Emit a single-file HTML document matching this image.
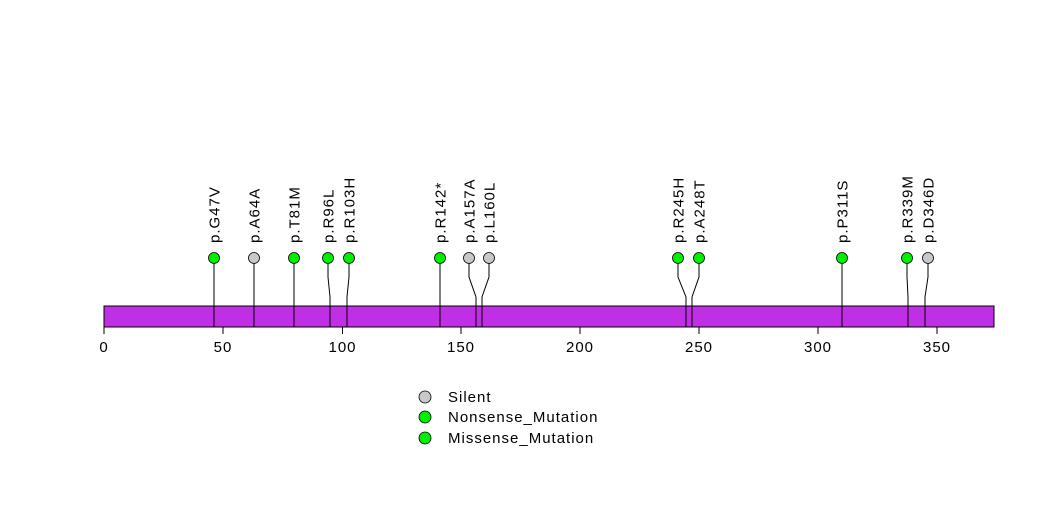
<!DOCTYPE html>
<html><head><meta charset="utf-8"><style>
html,body{margin:0;padding:0;background:#fff;width:1047px;height:524px;overflow:hidden}
svg{display:block}
text{font-family:"Liberation Sans",sans-serif;font-size:15px;letter-spacing:1px;fill:#000}
</style></head><body>
<svg width="1047" height="524" viewBox="0 0 1047 524" xmlns="http://www.w3.org/2000/svg">
<rect x="104" y="306" width="890" height="21" fill="#BF2FE5" stroke="#000" stroke-width="1"/>
<g stroke="#000" stroke-width="1" fill="none">
<path d="M214,258V327"/>
<path d="M254,258V327"/>
<path d="M294,258V327"/>
<path d="M328,258V277L330,297V327"/>
<path d="M349,258V277L347,297V327"/>
<path d="M440,258V327"/>
<path d="M469,258V277L476,297V327"/>
<path d="M489,258V277L482,297V327"/>
<path d="M678,258V277L686,297V327"/>
<path d="M699,258V277L692,297V327"/>
<path d="M842,258V327"/>
<path d="M907,258V277L908,297V327"/>
<path d="M928,258V277L925,297V327"/>
<path d="M104,327V334M223,327V334M342.5,327V334M461,327V334M580,327V334M699,327V334M818,327V334M937,327V334"/>
</g>
<g stroke="#000" stroke-width="0.8">
<circle cx="214" cy="258" r="5.5" fill="#00EE00"/>
<circle cx="254" cy="258" r="5.5" fill="#C8C8C8"/>
<circle cx="294" cy="258" r="5.5" fill="#00EE00"/>
<circle cx="328" cy="258" r="5.5" fill="#00EE00"/>
<circle cx="349" cy="258" r="5.5" fill="#00EE00"/>
<circle cx="440" cy="258" r="5.5" fill="#00EE00"/>
<circle cx="469" cy="258" r="5.5" fill="#C8C8C8"/>
<circle cx="489" cy="258" r="5.5" fill="#C8C8C8"/>
<circle cx="678" cy="258" r="5.5" fill="#00EE00"/>
<circle cx="699" cy="258" r="5.5" fill="#00EE00"/>
<circle cx="842" cy="258" r="5.5" fill="#00EE00"/>
<circle cx="907" cy="258" r="5.5" fill="#00EE00"/>
<circle cx="928" cy="258" r="5.5" fill="#C8C8C8"/>
<circle cx="425" cy="397" r="6" fill="#C8C8C8"/>
<circle cx="425" cy="417" r="6" fill="#00EE00"/>
<circle cx="425" cy="438" r="6" fill="#00EE00"/>
</g>
<g>
<text transform="translate(219.5,243) rotate(-90)">p.G47V</text>
<text transform="translate(259.5,243) rotate(-90)">p.A64A</text>
<text transform="translate(299.5,243) rotate(-90)">p.T81M</text>
<text transform="translate(333.5,243) rotate(-90)">p.R96L</text>
<text transform="translate(354.5,243) rotate(-90)">p.R103H</text>
<text transform="translate(445.5,243) rotate(-90)">p.R142*</text>
<text transform="translate(474.5,243) rotate(-90)">p.A157A</text>
<text transform="translate(494.5,243) rotate(-90)">p.L160L</text>
<text transform="translate(683.5,243) rotate(-90)">p.R245H</text>
<text transform="translate(704.5,243) rotate(-90)">p.A248T</text>
<text transform="translate(847.5,243) rotate(-90)">p.P311S</text>
<text transform="translate(912.5,243) rotate(-90)">p.R339M</text>
<text transform="translate(933.5,243) rotate(-90)">p.D346D</text>
</g>
<g text-anchor="middle">
<text x="104" y="352">0</text>
<text x="223" y="352">50</text>
<text x="342.5" y="352">100</text>
<text x="461" y="352">150</text>
<text x="580" y="352">200</text>
<text x="699" y="352">250</text>
<text x="818" y="352">300</text>
<text x="937" y="352">350</text>
</g>
<text x="448" y="402">Silent</text>
<text x="448" y="422">Nonsense_Mutation</text>
<text x="448" y="443">Missense_Mutation</text>
</svg>
</body></html>
